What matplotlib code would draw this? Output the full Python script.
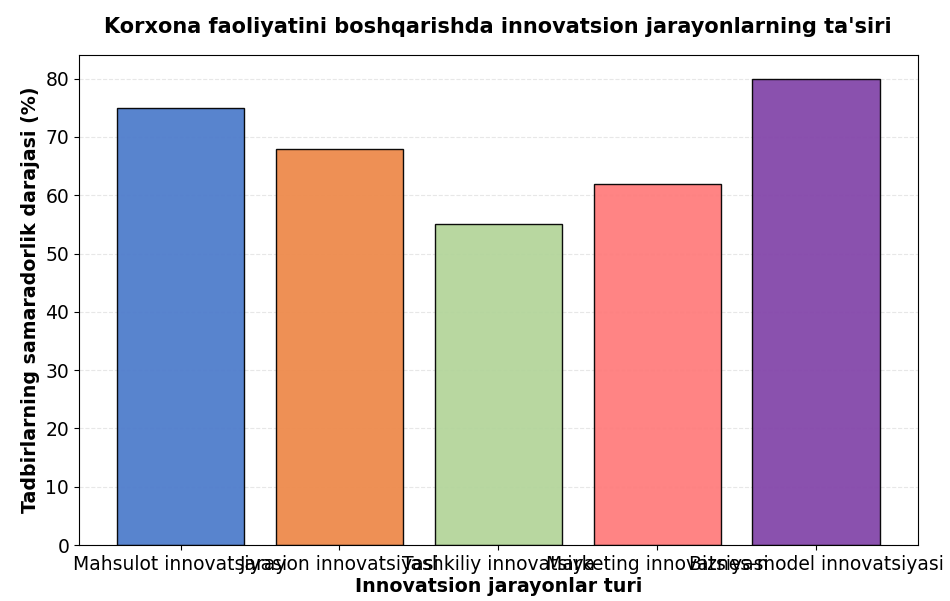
import matplotlib
matplotlib.use("Agg")
import matplotlib.pyplot as plt

categories = ['Mahsulot innovatsiyasi', 'Jarayon innovatsiyasi', 'Tashkiliy innovatsiya',
              'Marketing innovatsiyasi', 'Biznes-model innovatsiyasi']
values = [75, 68, 55, 62, 80]
colors = ['#4f7dcc', '#ee8a4c', '#b4d59b', '#ff7d7d', '#8447aa']

fig, ax = plt.subplots(figsize=(9.5, 6.01), dpi=100)
ax.bar(categories, values, color=colors, edgecolor='black', linewidth=1, alpha=0.95)
ax.set_title("Korxona faoliyatini boshqarishda innovatsion jarayonlarning ta'siri",
             fontsize=15, fontweight='bold', pad=16)
ax.set_xlabel('Innovatsion jarayonlar turi', fontsize=13.7, fontweight='bold', labelpad=2)
ax.set_ylabel('Tadbirlarning samaradorlik darajasi (%)', fontsize=13.7, fontweight='bold')
ax.tick_params(labelsize=13.5)
ax.grid(axis='y', alpha=0.3, linestyle='--')
ax.set_axisbelow(True)
fig.subplots_adjust(left=0.083, right=0.966, top=0.908, bottom=0.093)
fig.savefig('out.png')
